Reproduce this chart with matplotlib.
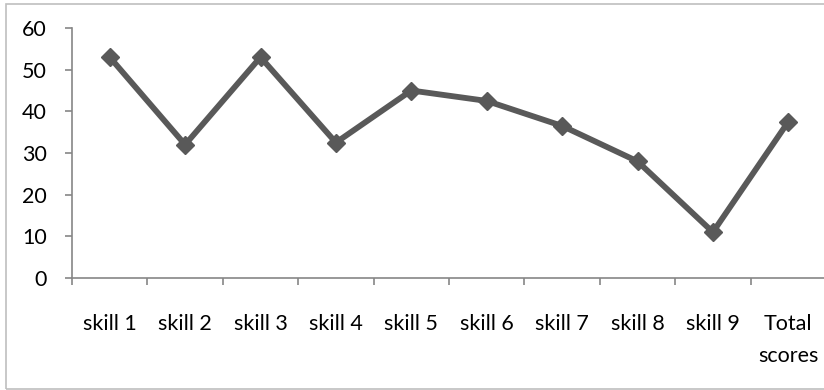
import matplotlib.pyplot as plt
from matplotlib.patches import Rectangle

categories = ["skill 1", "skill 2", "skill 3", "skill 4", "skill 5",
              "skill 6", "skill 7", "skill 8", "skill 9", "Total\nscores"]
scores = [53, 32, 53, 32.5, 45, 42.5, 36.5, 28, 11, 37.5]
y_ticks = [0, 10, 20, 30, 40, 50, 60]

plt.rcParams['font.family'] = ['Lato', 'DejaVu Sans']

fig = plt.figure(figsize=(8.24, 3.9), dpi=100)
# outer chart border, excel style
fig.patches.append(Rectangle((6 / 824, 1.5 / 390), 1.0, 385 / 390, transform=fig.transFigure,
                             fill=False, edgecolor='#bfbfbf', linewidth=1.2))

ax = fig.add_axes([72 / 824, 1 - 278 / 390, 754 / 824, 250 / 390])
x = list(range(len(categories)))
ax.plot(x, scores, color='#595959', linewidth=4.2, marker='D', markersize=9.5,
        markerfacecolor='#595959', markeredgecolor='#595959', solid_joinstyle='round')

ax.set_xlim(-0.5, len(categories) - 0.5)
ax.set_ylim(0, 60)
ax.set_yticks(y_ticks)
ax.set_xticks([i - 0.5 for i in range(len(categories) + 1)])
ax.set_xticklabels([])
ax.set_xticks(x, minor=True)
ax.set_xticklabels(categories, minor=True, linespacing=1.75, va='top')

for s in ['top', 'right']:
    ax.spines[s].set_visible(False)
for s in ['left', 'bottom']:
    ax.spines[s].set_color('#868686')
    ax.spines[s].set_linewidth(1.2)

ax.tick_params(axis='y', which='major', direction='out', length=5, width=1.2,
               color='#868686', labelsize=15.5, pad=13)
ax.tick_params(axis='x', which='major', direction='out', length=5, width=1.2,
               color='#868686')
ax.tick_params(axis='x', which='minor', length=0, labelsize=15.5, pad=26)

fig.savefig('out.png', dpi=100)
